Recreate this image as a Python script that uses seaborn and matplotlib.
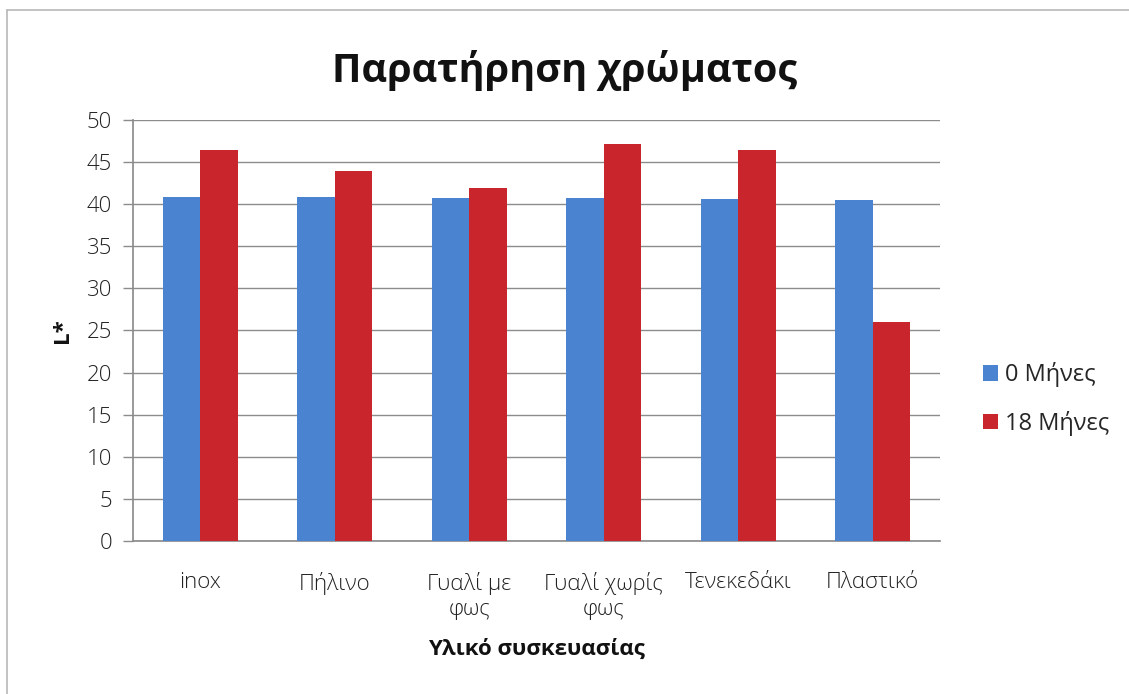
import matplotlib
matplotlib.use("Agg")
import matplotlib.pyplot as plt
import seaborn as sns
import pandas as pd
from matplotlib.lines import Line2D

categories = ["inox", "Πήλινο", "Γυαλί με\nφως", "Γυαλί χωρίς\nφως", "Τενεκεδάκι", "Πλαστικό"]
months_0 = [40.8, 40.8, 40.7, 40.7, 40.6, 40.5]
months_18 = [46.4, 43.9, 41.9, 47.1, 46.4, 26.0]
series_names = ["0 Μήνες", "18 Μήνες"]
colors = ["#4A84D0", "#C8262C"]

rows = []
for c, v in zip(categories, months_0):
    rows.append({"cat": c, "series": series_names[0], "val": v})
for c, v in zip(categories, months_18):
    rows.append({"cat": c, "series": series_names[1], "val": v})
df = pd.DataFrame(rows)

sns.set_theme(style="white")
plt.rcParams["font.family"] = ["Open Sans", "DejaVu Sans"]

fig = plt.figure(figsize=(11.29, 6.94), dpi=100)
ax = fig.add_axes([0.1178, 0.2205, 0.7148, 0.6066])

sns.barplot(data=df, x="cat", y="val", hue="series", order=categories,
            hue_order=series_names, palette=colors, width=0.56,
            saturation=1, ax=ax, zorder=3, linewidth=0)

ax.set_ylim(0, 50)
ax.set_yticks(range(0, 51, 5))
ax.yaxis.grid(True, color="#8c8c8c", linewidth=1.0, zorder=0)
ax.set_axisbelow(True)
for s in ["top", "right"]:
    ax.spines[s].set_visible(False)
ax.spines["left"].set_color("#8c8c8c")
ax.spines["bottom"].set_color("#8c8c8c")
ax.tick_params(axis="y", labelsize=16, colors="#222222", length=7, color="#8c8c8c",
               left=True, width=1, pad=8)
ax.tick_params(axis="x", labelsize=16, colors="#222222", length=0, pad=22)
for lab in ax.get_xticklabels():
    lab.set_horizontalalignment("center")
    lab.set_multialignment("center")
    lab.set_linespacing(1.25)
for lab in ax.get_xticklabels() + ax.get_yticklabels():
    lab.set_fontweight("light")

ax.set_xlabel("Υλικό συσκευασίας", fontsize=16, fontweight="bold", labelpad=14, color="#111111")
ax.set_ylabel("L*", fontsize=16, fontweight="bold", labelpad=10, color="#111111")

fig.text(0.50, 0.898, "Παρατήρηση χρώματος", fontsize=28.5, fontweight="bold",
         ha="center", va="center", color="#111111")

leg = ax.legend(loc="center left", bbox_to_anchor=(0.862, 0.425),
                bbox_transform=fig.transFigure, frameon=False,
                fontsize=17, handlelength=0.65, handleheight=0.65, handletextpad=0.3,
                labelspacing=1.0, borderaxespad=0)

fig.add_artist(Line2D([0.0062, 1.0], [0.986, 0.986], transform=fig.transFigure,
                      color="#b8b8b8", linewidth=1.2))
fig.add_artist(Line2D([0.0062, 0.0062], [0.0, 0.986], transform=fig.transFigure,
                      color="#b8b8b8", linewidth=1.2))

fig.savefig("out.png", dpi=100)
